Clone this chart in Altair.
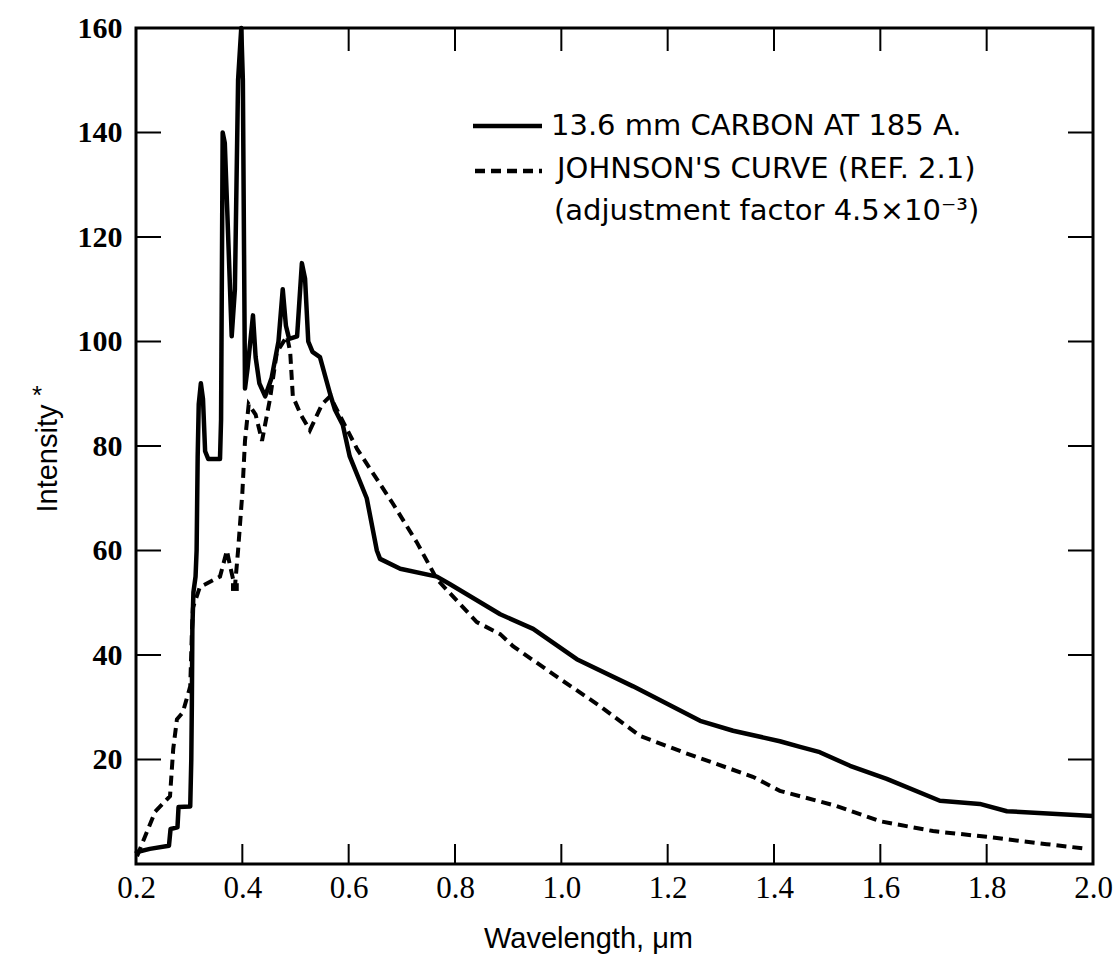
import altair as alt
import pandas as pd

# ---- data ----
solid_x = [0.200, 0.202, 0.226, 0.262, 0.265, 0.278, 0.280, 0.302, 0.304, 0.305, 0.306,
           0.308, 0.312, 0.314, 0.316, 0.318, 0.322, 0.326, 0.330, 0.336, 0.358, 0.360,
           0.363, 0.367, 0.372, 0.380, 0.386, 0.392, 0.398, 0.401, 0.405, 0.410, 0.420,
           0.425, 0.432, 0.443, 0.455, 0.468, 0.476, 0.482, 0.488, 0.503, 0.512, 0.518,
           0.524, 0.532, 0.546, 0.565, 0.574, 0.589, 0.602, 0.634, 0.653, 0.659, 0.697,
           0.766, 0.790, 0.885, 0.947, 1.029, 1.135, 1.261, 1.323, 1.411, 1.449, 1.486,
           1.543, 1.612, 1.712, 1.787, 1.838, 2.000]
solid_y = [2.0, 2.3, 2.9, 3.5, 6.7, 7.0, 10.9, 11.0, 20, 30, 45,
           52, 55, 60, 78, 88, 92, 89, 79, 77.5, 77.5, 85,
           140, 138, 124, 101, 110, 150, 160, 150, 91, 95, 105,
           97, 92, 89.5, 93, 100, 110, 103, 100.5, 101, 115, 112,
           100, 98, 97, 90, 87, 84, 78, 70, 60, 58.4, 56.5,
           55, 53.6, 47.8, 45, 39.2, 34, 27.4, 25.5, 23.5, 22.4, 21.4,
           18.8, 16.3, 12.1, 11.5, 10.1, 9.2]

dashed_x = [0.202, 0.236, 0.264, 0.270, 0.277, 0.288, 0.302, 0.305, 0.307, 0.320,
            0.358, 0.371, 0.377, 0.386, 0.392, 0.400, 0.405, 0.412, 0.425, 0.437,
            0.452, 0.465, 0.484, 0.490, 0.495, 0.510, 0.527, 0.550, 0.565, 0.616,
            0.683, 0.728, 0.766, 0.841, 0.885, 0.909, 0.992, 1.073, 1.148, 1.229,
            1.360, 1.411, 1.518, 1.599, 1.699, 1.800, 1.913, 1.989]
dashed_y = [1.5, 10, 13, 22, 27.7, 29, 34, 44, 49, 53,
            55, 60, 57, 53, 60, 71, 81, 88, 86, 81,
            89, 98, 101, 98, 89.5, 86, 83, 88, 89.5, 79.4,
            69, 61.6, 54.5, 46.3, 44, 41.7, 35.8, 30.2, 24.5, 21.4,
            16.7, 14, 11.1, 8.2, 6.3, 5.2, 3.8, 2.9]

marker_x = [0.386]
marker_y = [53]

x_tick_labels = [0.2, 0.4, 0.6, 0.8, 1.0, 1.2, 1.4, 1.6, 1.8, 2.0]
y_tick_labels = [20, 40, 60, 80, 100, 120, 140, 160]
x_inner_ticks = [0.4, 0.6, 0.8, 1.0, 1.2, 1.4, 1.6, 1.8]
y_inner_ticks = [20, 40, 60, 80, 100, 120, 140]

legend_labels = ["13.6 mm CARBON AT 185 A.",
                 "JOHNSON'S CURVE (REF. 2.1)",
                 "(adjustment factor 4.5\u00d710\u207b\u00b3)"]

W, H = 957, 836

solid_df = pd.DataFrame({"x": solid_x, "y": solid_y, "i": range(len(solid_x))})
dashed_df = pd.DataFrame({"x": dashed_x, "y": dashed_y, "i": range(len(dashed_x))})
marker_df = pd.DataFrame({"x": marker_x, "y": marker_y})
xt_df = pd.DataFrame({"x": x_inner_ticks})
yt_df = pd.DataFrame({"y": y_inner_ticks})
one = pd.DataFrame({"k": [0]})

x_enc = alt.X("x:Q",
              scale=alt.Scale(domain=[0.2, 2.0], nice=False, zero=False),
              axis=alt.Axis(values=x_tick_labels, format=".1f", tickSize=0, domain=False,
                            grid=False, labelFont="Liberation Serif",
                            labelFontSize=31, labelPadding=9, labelColor="black",
                            labelFlush=False, labelOverlap=False,
                            title="Wavelength, \u03bcm", titleFont="Liberation Sans",
                            titleFontSize=29, titleFontWeight="normal", titleColor="black",
                            titleX=452, titleY=74, titleBaseline="middle", titleAlign="center"))
y_enc = alt.Y("y:Q",
              scale=alt.Scale(domain=[0, 160], nice=False),
              axis=alt.Axis(values=y_tick_labels, tickSize=0, domain=False, grid=False,
                            labelFont="Liberation Serif", labelFontSize=30, labelFontWeight="bold",
                            labelPadding=14, labelColor="black", labelFlush=False,
                            title="Intensity", titleFont="Liberation Sans", titleFontSize=29,
                            titleFontWeight="normal", titleColor="black", titleAngle=270,
                            titleX=-89, titleY=430, titleBaseline="middle", titleAlign="center"))

solid = alt.Chart(solid_df).mark_line(color="black", strokeWidth=4.5, strokeJoin="round").encode(
    x=x_enc, y=y_enc, order=alt.Order("i:Q"))
dashed = alt.Chart(dashed_df).mark_line(color="black", strokeWidth=4, strokeDash=[10, 6]).encode(
    x=x_enc, y=y_enc, order=alt.Order("i:Q"))
marker = alt.Chart(marker_df).mark_square(color="black", size=60, opacity=1).encode(x=x_enc, y=y_enc)

left_ticks = alt.Chart(yt_df).mark_rule(color="black", strokeWidth=2).encode(
    y=y_enc, x=alt.value(0), x2=alt.value(25))
right_ticks = alt.Chart(yt_df).mark_rule(color="black", strokeWidth=2).encode(
    y=y_enc, x=alt.value(W - 25), x2=alt.value(W))
bottom_ticks = alt.Chart(xt_df).mark_rule(color="black", strokeWidth=2).encode(
    x=x_enc, y=alt.value(H - 20), y2=alt.value(H))
top_ticks = alt.Chart(xt_df).mark_rule(color="black", strokeWidth=2).encode(
    x=x_enc, y=alt.value(0), y2=alt.value(23))

leg_solid = alt.Chart(one).mark_rule(color="black", strokeWidth=4.5).encode(
    x=alt.value(337), x2=alt.value(406), y=alt.value(98))
leg_dash = alt.Chart(one).mark_rule(color="black", strokeWidth=4.5, strokeDash=[10, 6]).encode(
    x=alt.value(339), x2=alt.value(406), y=alt.value(143))

text_style = dict(font="DejaVu Sans", fontSize=29, color="black", align="left", baseline="middle")
leg_t1 = alt.Chart(one).mark_text(text=legend_labels[0], **text_style).encode(
    x=alt.value(415), y=alt.value(98))
leg_t2 = alt.Chart(one).mark_text(text=legend_labels[1], **text_style).encode(
    x=alt.value(421), y=alt.value(141))
leg_t3 = alt.Chart(one).mark_text(text=legend_labels[2], **text_style).encode(
    x=alt.value(418), y=alt.value(183))

asterisk = alt.Chart(one).mark_text(text="*", font="Liberation Sans", fontSize=26,
                                    color="black", align="center", baseline="middle").encode(
    x=alt.value(-99), y=alt.value(368))

chart = alt.layer(
    solid, dashed, marker, left_ticks, right_ticks, bottom_ticks, top_ticks,
    leg_solid, leg_dash, leg_t1, leg_t2, leg_t3, asterisk
).properties(
    width=W, height=H,
    autosize=alt.AutoSizeParams(type="none"),
    padding={"left": 136, "top": 28, "right": 20, "bottom": 97},
    background="white",
).configure_view(stroke="black", strokeWidth=3)

chart.save("out.html", embed_options={"renderer": "svg", "actions": False})
